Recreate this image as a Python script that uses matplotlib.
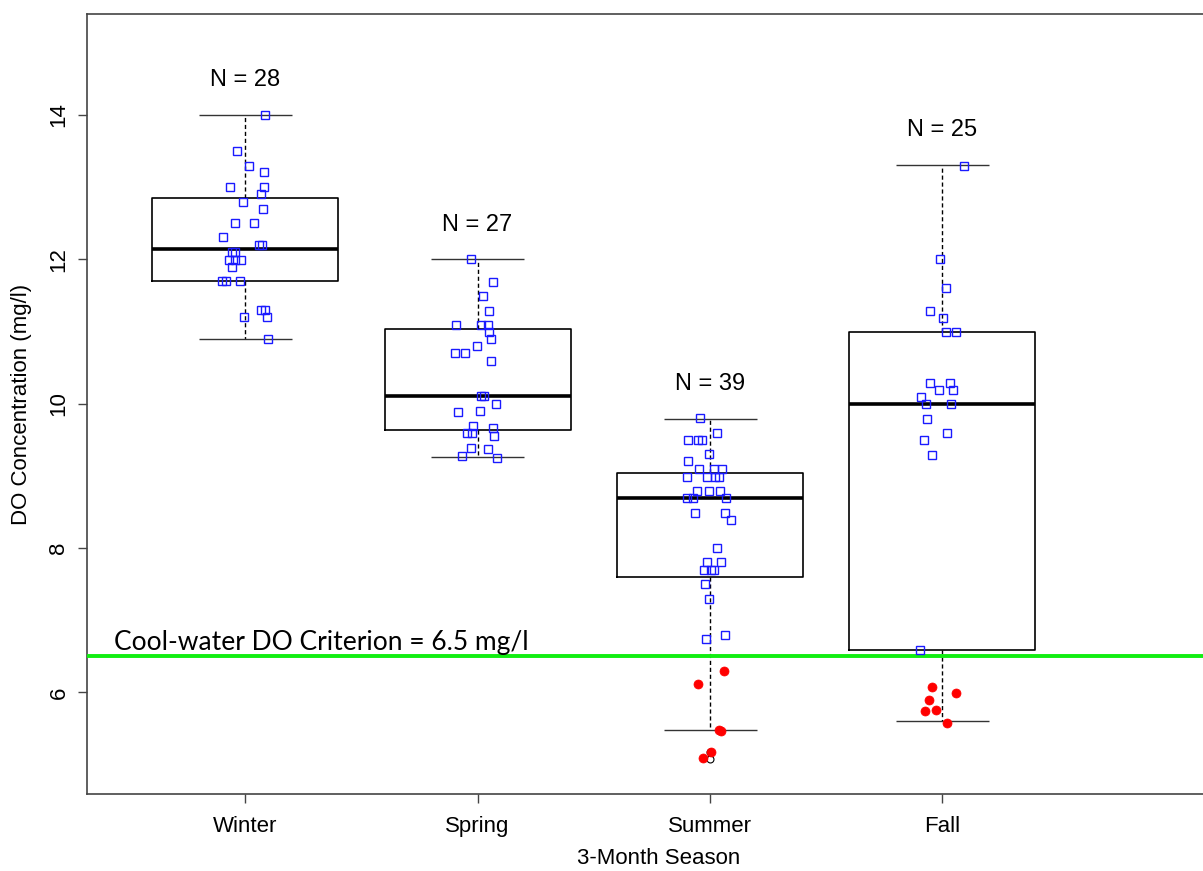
import numpy as np
import matplotlib.pyplot as plt

# 季节与样本量
seasons = ['Winter', 'Spring', 'Summer', 'Fall']
n_labels = ['N = 28', 'N = 27', 'N = 39', 'N = 25']

# 各季节DO观测值 (mg/l)
winter_do = [14.0, 13.5, 13.3, 13.21, 13.0, 13.0, 12.9, 12.8, 12.7, 12.5, 12.5, 12.31,
             12.2, 12.2, 12.1, 12.1, 11.99, 11.99, 11.99, 11.9, 11.7, 11.7, 11.7,
             11.3, 11.3, 11.2, 11.2, 10.9]
spring_do = [12.0, 11.69, 11.49, 11.29, 11.09, 11.09, 11.09, 10.99, 10.9, 10.8, 10.7, 10.7,
             10.59, 10.1, 10.1, 10.0, 9.89, 9.9, 9.69, 9.66, 9.6, 9.6, 9.55, 9.39, 9.37,
             9.27, 9.25]
summer_do = [9.8, 9.6, 9.49, 9.49, 9.49, 9.3, 9.2, 9.09, 9.09, 9.09, 8.99, 8.99, 8.99, 8.99,
             8.79, 8.79, 8.79, 8.69, 8.69, 8.69, 8.49, 8.49, 8.39, 8.0, 7.8, 7.8, 7.69, 7.69,
             7.69, 7.5, 7.3, 6.74, 6.79, 6.29, 6.11, 5.47, 5.48, 5.18, 5.09]
fall_do = [13.3, 12.0, 11.6, 11.29, 11.19, 10.99, 10.99, 10.29, 10.29, 10.19, 10.19, 10.09,
           9.99, 9.99, 9.79, 9.59, 9.49, 9.29, 6.58, 6.08, 5.99, 5.9, 5.76, 5.74, 5.58]

# 抖动偏移
winter_jit = [0.086, -0.036, 0.018, 0.082, -0.065, 0.082, 0.069, -0.010, 0.079, -0.043, 0.040,
              -0.095, 0.060, 0.072, -0.057, -0.043, -0.069, -0.043, -0.018, -0.057, -0.100,
              -0.083, -0.023, 0.068, 0.085, -0.003, 0.093, 0.098]
spring_jit = [-0.030, 0.066, 0.025, 0.049, -0.092, 0.016, 0.044, 0.050, 0.057, -0.004, -0.095,
              -0.056, 0.057, 0.017, 0.027, 0.079, -0.085, 0.012, -0.018, 0.068, -0.047, -0.025,
              0.069, -0.030, 0.044, -0.068, 0.085]
summer_jit = [-0.043, 0.029, -0.095, -0.052, -0.034, -0.006, -0.096, -0.047, 0.016, 0.050,
              -0.100, -0.014, 0.022, 0.037, -0.057, -0.006, 0.042, -0.100, -0.072, 0.069,
              -0.063, 0.065, 0.092, 0.029, -0.012, 0.049, -0.026, 0.003, 0.018, -0.022,
              -0.004, -0.016, 0.066, 0.062, -0.052, 0.049, 0.039, 0.003, -0.030]
fall_jit = [0.092, -0.009, 0.016, -0.055, 0.001, 0.016, 0.059, -0.055, 0.031, -0.013, 0.047,
            -0.092, -0.070, 0.037, -0.066, 0.020, -0.080, -0.046, -0.095, -0.047, 0.059,
            -0.059, -0.029, -0.076, 0.020]

# 箱线图统计量 (R风格)
q1 = [11.70, 9.64, 7.60, 6.59]
med = [12.15, 10.10, 8.69, 9.99]
q3 = [12.85, 11.04, 9.04, 10.99]
whislo = [10.9, 9.26, 5.48, 5.60]
whishi = [14.0, 12.0, 9.79, 13.31]
fliers = [[], [], [5.18, 5.08], []]

criterion = 6.5

plt.rcParams['font.family'] = ['Liberation Sans', 'DejaVu Sans']

fig = plt.figure(figsize=(12.03, 8.71), dpi=100)
ax = fig.add_axes([0.0721, 0.0884, 0.9504, 0.8955])

stats = []
for i in range(4):
    stats.append(dict(q1=q1[i], med=med[i], q3=q3[i], whislo=whislo[i], whishi=whishi[i],
                      fliers=fliers[i]))
pos = np.arange(1, 5)
ax.bxp(stats, positions=pos, widths=0.8, showfliers=True,
       boxprops=dict(color='black', linewidth=1.2),
       medianprops=dict(color='black', linewidth=2.6),
       whiskerprops=dict(color='black', linewidth=1.0, linestyle=(0, (3, 2))),
       capprops=dict(color='#333333', linewidth=1.0, solid_capstyle='butt'),
       flierprops=dict(marker='o', markerfacecolor='none', markeredgecolor='black',
                       markersize=5, markeredgewidth=0.8),
       capwidths=0.4)

# 散点: 达标为蓝色方块, 低于标准为红色圆点
all_do = [winter_do, spring_do, summer_do, fall_do]
all_jit = [winter_jit, spring_jit, summer_jit, fall_jit]
for i in range(4):
    y = np.array(all_do[i])
    x = pos[i] + np.array(all_jit[i])
    ok = y >= criterion
    ax.plot(x[ok], y[ok], 's', mfc='none', mec='#1a1aff', ms=5.5, mew=1.0, zorder=4)
    ax.plot(x[~ok], y[~ok], 'o', mfc='#ff0000', mec='#ff0000', ms=6.5, mew=0.5, zorder=5)
    ax.text(pos[i], whishi[i] + 0.48, n_labels[i], ha='center', va='center', fontsize=17)

ax.axhline(criterion, color='#11ee11', linewidth=2.8, zorder=3)
ax.text(0.437, 6.58, 'Cool-water DO Criterion = 6.5 mg/l', family=['Lato', 'DejaVu Sans'],
        fontsize=19, ha='left', va='baseline')

ax.set_xlim(0.319, 5.237)
ax.set_ylim(4.591, 15.40)
ax.set_xticks(pos)
ax.set_xticklabels(seasons)
ax.set_yticks([6, 8, 10, 12, 14])
ax.tick_params(axis='both', labelsize=16, length=6.5, width=1, color='#444444', direction='out')
for lab in ax.get_yticklabels():
    lab.set_rotation(90)
    lab.set_va('center')
ax.tick_params(axis='y', pad=6)
ax.tick_params(axis='x', pad=9)
for s in ax.spines.values():
    s.set_color('#444444')
    s.set_linewidth(1.2)
ax.set_xlabel('3-Month Season', fontsize=16, labelpad=8)
ax.set_ylabel('DO Concentration (mg/l)', fontsize=16, labelpad=12)

fig.savefig('out.png', dpi=100)
